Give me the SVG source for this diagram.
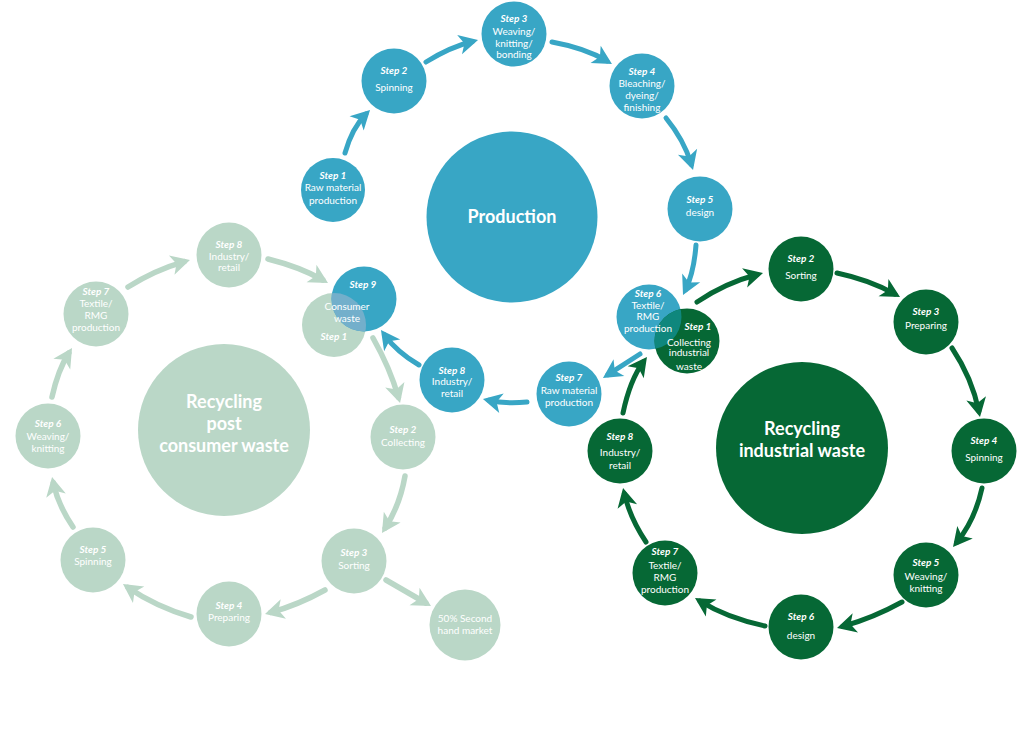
<svg xmlns="http://www.w3.org/2000/svg" width="1024" height="733" viewBox="0 0 1024 733">
<style>
.b{fill:#38A6C5}.l{fill:#BAD7C7}.g{fill:#066835}
text{font-family:Lato,"Open Sans","Liberation Sans",sans-serif;fill:#fff;text-anchor:middle;font-size:10px}
.s{font-weight:bold;font-style:italic}
.big{font-weight:bold;font-size:18px}
.cb{fill:none;stroke:#38A6C5;stroke-width:5;stroke-linecap:round}
.cl{fill:none;stroke:#BAD7C7;stroke-width:5.5;stroke-linecap:round}
.cg{fill:none;stroke:#066835;stroke-width:5;stroke-linecap:round}
</style>
<defs>
<marker id="ab" viewBox="-20 -11 22 22" refX="-6" refY="0" markerWidth="22" markerHeight="22" markerUnits="userSpaceOnUse" orient="auto"><path d="M0,0 L-19,-10 L-14,0 L-19,10 Z" fill="#38A6C5"/></marker>
<marker id="al" viewBox="-20 -11 22 22" refX="-6" refY="0" markerWidth="22" markerHeight="22" markerUnits="userSpaceOnUse" orient="auto"><path d="M0,0 L-19,-10 L-14,0 L-19,10 Z" fill="#BAD7C7"/></marker>
<marker id="ag" viewBox="-20 -11 22 22" refX="-6" refY="0" markerWidth="22" markerHeight="22" markerUnits="userSpaceOnUse" orient="auto"><path d="M0,0 L-19,-10 L-14,0 L-19,10 Z" fill="#066835"/></marker>
<clipPath id="clipP9"><circle cx="364" cy="299" r="32.5"/></clipPath>
<clipPath id="clipP6"><circle cx="649" cy="317" r="32.5"/></clipPath>
</defs>

<g id="connectors">
<path class="cb" marker-end="url(#ab)" d="M345,153 Q352,128 365.8,114.2"/>
<path class="cb" marker-end="url(#ab)" d="M426,62 Q450,47 472.2,41.5"/>
<path class="cb" marker-end="url(#ab)" d="M552,42 Q585,48 606.8,60.9"/>
<path class="cb" marker-end="url(#ab)" d="M666,118 Q684,140 691.3,164.2"/>
<path class="cb" marker-end="url(#ab)" d="M696,245 Q694,272 685.6,289.6"/>
<path class="cb" marker-end="url(#ab)" d="M640,354 Q620,367 608,374.7"/>
<path class="cb" marker-end="url(#ab)" d="M527,402 Q505,404 488.8,400.3"/>
<path class="cb" marker-end="url(#ab)" d="M419,365 Q397,352 384.5,334.9"/>

<path class="cl" marker-end="url(#al)" d="M373,338 Q390,368 398.4,397.2"/>
<path class="cl" marker-end="url(#al)" d="M405,476 Q400,505 385.2,528"/>
<path class="cl" marker-end="url(#al)" d="M386,580 L425.8,603"/>
<path class="cl" marker-end="url(#al)" d="M325,590 Q298,605 270.8,612.4"/>
<path class="cl" marker-end="url(#al)" d="M191,617 Q155,606 127.9,587.4"/>
<path class="cl" marker-end="url(#al)" d="M73,527 Q58,505 53.3,482.9"/>
<path class="cl" marker-end="url(#al)" d="M52,397 Q58,370 68.8,353.1"/>
<path class="cl" marker-end="url(#al)" d="M128,287 Q155,270 184.2,261.6"/>
<path class="cl" marker-end="url(#al)" d="M268,259 Q300,267 322.8,280"/>

<path class="cg" marker-end="url(#ag)" d="M697,302 Q725,283 757.2,274.5"/>
<path class="cg" marker-end="url(#ag)" d="M837,273 Q870,280 894.8,294.1"/>
<path class="cg" marker-end="url(#ag)" d="M952,348 Q972,378 978.8,411.1"/>
<path class="cg" marker-end="url(#ag)" d="M982,488 Q975,520 956.8,542.3"/>
<path class="cg" marker-end="url(#ag)" d="M902,602 Q873,618 842.8,626.4"/>
<path class="cg" marker-end="url(#ag)" d="M765,626 Q727,618 700.1,601.2"/>
<path class="cg" marker-end="url(#ag)" d="M646,542 Q630,518 624.4,493.8"/>
<path class="cg" marker-end="url(#ag)" d="M623,413 Q630,380 643.4,361.8"/>
</g>

<!-- Post consumer cycle -->
<g id="post-center"><circle class="l" cx="224" cy="430" r="86"/>
<text class="big" x="224" y="408">Recycling</text><text class="big" x="224" y="430">post</text><text class="big" x="224" y="452">consumer waste</text></g>
<g id="post-step1"><circle class="l" cx="334" cy="325" r="32"/></g>
<g id="post-step2"><circle class="l" cx="403" cy="437" r="32.5"/><text class="s" x="403" y="433">Step 2</text><text x="403" y="446">Collecting</text></g>
<g id="post-step3"><circle class="l" cx="354" cy="561" r="32.5"/><text class="s" x="354" y="556">Step 3</text><text x="354" y="569">Sorting</text></g>
<g id="post-step4"><circle class="l" cx="229" cy="614" r="32.5"/><text class="s" x="229" y="608.5">Step 4</text><text x="229" y="621">Preparing</text></g>
<g id="post-step5"><circle class="l" cx="93" cy="560" r="32.5"/><text class="s" x="93" y="553">Step 5</text><text x="93" y="565">Spinning</text></g>
<g id="post-step6"><circle class="l" cx="48" cy="436" r="32.5"/><text class="s" x="48" y="427">Step 6</text><text x="48" y="439.5">Weaving/</text><text x="48" y="452">knitting</text></g>
<g id="post-step7"><circle class="l" cx="96" cy="314" r="32.5"/><text class="s" x="96" y="294.5">Step 7</text><text x="96" y="307">Textile/</text><text x="96" y="319">RMG</text><text x="96" y="331">production</text></g>
<g id="post-step8"><circle class="l" cx="229" cy="255" r="32.5"/><text class="s" x="229" y="247.5">Step 8</text><text x="229" y="259.5">Industry/</text><text x="229" y="271">retail</text></g>
<g id="post-second-hand"><circle class="l" cx="465" cy="625" r="35.5"/><text x="465" y="622">50% Second</text><text x="465" y="634">hand market</text></g>

<!-- Production cycle -->
<g id="prod-center"><circle class="b" cx="512" cy="217" r="85.5"/><text class="big" x="512" y="223">Production</text></g>
<g id="prod-step1"><circle class="b" cx="333" cy="190" r="32"/><text class="s" x="333" y="179">Step 1</text><text x="333" y="191">Raw material</text><text x="333" y="204">production</text></g>
<g id="prod-step2"><circle class="b" cx="394" cy="81" r="32.5"/><text class="s" x="394" y="74">Step 2</text><text x="394" y="91">Spinning</text></g>
<g id="prod-step3"><circle class="b" cx="514" cy="34" r="32.5"/><text class="s" x="514" y="22">Step 3</text><text x="514" y="35">Weaving/</text><text x="514" y="47">knitting/</text><text x="514" y="58">bonding</text></g>
<g id="prod-step4"><circle class="b" cx="642" cy="86" r="32.5"/><text class="s" x="642" y="74.5">Step 4</text><text x="642" y="87">Bleaching/</text><text x="642" y="99">dyeing/</text><text x="642" y="111">finishing</text></g>
<g id="prod-step5"><circle class="b" cx="700" cy="209" r="32.5"/><text class="s" x="700" y="203">Step 5</text><text x="700" y="216">design</text></g>
<g id="prod-step7"><circle class="b" cx="569" cy="394" r="32.5"/><text class="s" x="569" y="381">Step 7</text><text x="569" y="394">Raw material</text><text x="569" y="406">production</text></g>
<g id="prod-step8"><circle class="b" cx="452" cy="380" r="32.5"/><text class="s" x="452" y="373.5">Step 8</text><text x="452" y="385">Industry/</text><text x="452" y="397">retail</text></g>
<g id="prod-step9"><circle class="b" cx="364" cy="299" r="32.5"/>
<circle cx="334" cy="325" r="32" fill="#73AFCB" clip-path="url(#clipP9)"/>
<text class="s" x="363" y="287.5">Step 9</text><text x="347" y="309.5">Consumer</text><text x="347" y="322">waste</text>
<text class="s" x="334" y="339.5">Step 1</text></g>
<g id="prod-step6"><circle class="b" cx="649" cy="317" r="32.5"/></g>

<!-- Industrial cycle -->
<g id="ind-center"><circle class="g" cx="802" cy="448" r="86"/><text class="big" x="802" y="435">Recycling</text><text class="big" x="802" y="457">industrial waste</text></g>
<g id="ind-step1"><circle class="g" cx="687" cy="341" r="32.5"/>
<circle cx="687" cy="341" r="32.5" fill="#0F877D" clip-path="url(#clipP6)"/>
<text class="s" x="648" y="297">Step 6</text><text x="648" y="308.5">Textile/</text><text x="648" y="320">RMG</text><text x="648" y="332">production</text>
<text class="s" x="698" y="330">Step 1</text><text x="689" y="345.5">Collecting</text><text x="689" y="356">industrial</text><text x="689" y="370">waste</text></g>
<g id="ind-step2"><circle class="g" cx="801" cy="269" r="32.5"/><text class="s" x="801" y="262">Step 2</text><text x="801" y="278.5">Sorting</text></g>
<g id="ind-step3"><circle class="g" cx="926" cy="322" r="32.5"/><text class="s" x="926" y="315">Step 3</text><text x="926" y="328.5">Preparing</text></g>
<g id="ind-step4"><circle class="g" cx="984" cy="451" r="32.5"/><text class="s" x="984" y="444">Step 4</text><text x="984" y="461">Spinning</text></g>
<g id="ind-step5"><circle class="g" cx="926" cy="575" r="32.5"/><text class="s" x="926" y="566">Step 5</text><text x="926" y="580">Weaving/</text><text x="926" y="592">knitting</text></g>
<g id="ind-step6"><circle class="g" cx="801" cy="627" r="32.5"/><text class="s" x="801" y="620">Step 6</text><text x="801" y="639">design</text></g>
<g id="ind-step7"><circle class="g" cx="665" cy="573" r="32.5"/><text class="s" x="665" y="554.5">Step 7</text><text x="665" y="569">Textile/</text><text x="665" y="581">RMG</text><text x="665" y="592.5">production</text></g>
<g id="ind-step8"><circle class="g" cx="620" cy="451" r="32.5"/><text class="s" x="620" y="439.5">Step 8</text><text x="620" y="456">Industry/</text><text x="620" y="468.5">retail</text></g>
</svg>
